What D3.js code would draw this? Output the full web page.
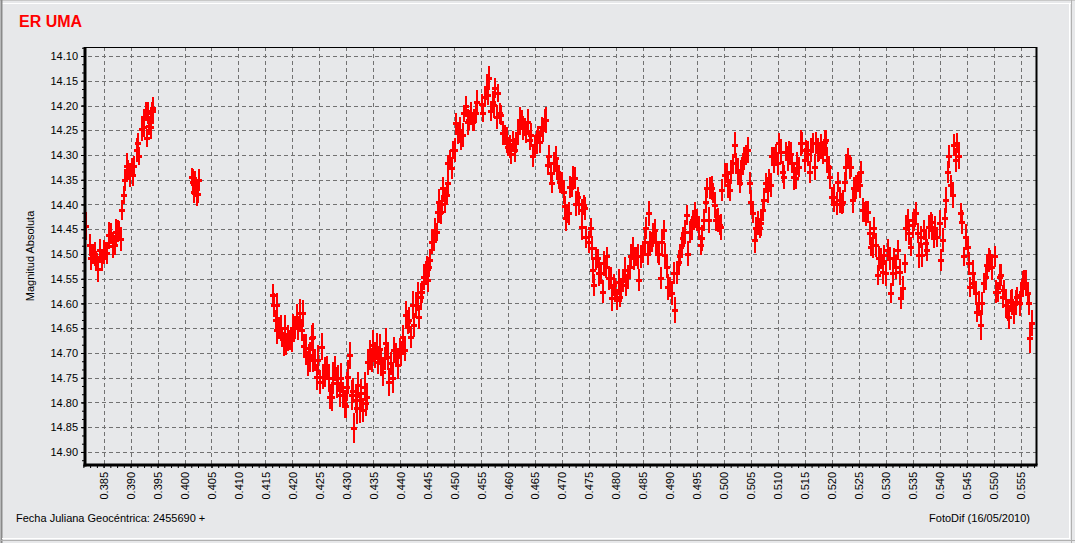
<!DOCTYPE html>
<html><head><meta charset="utf-8">
<script src="https://cdn.jsdelivr.net/npm/d3@7"></script>
<style>
body{margin:0;background:#e7e8ea;}
svg{display:block;font-family:"Liberation Sans",Arial,sans-serif;}
</style></head>
<body><svg id="c" width="1075" height="543"></svg>
<script>
// ---- data: [JD fraction, magnitude, error] ----
const seg1 = [[0.3818,14.443,0.028],[0.3825,14.482,0.022],[0.3827,14.508,0.025],[0.3830,14.500,0.020],[0.3834,14.500,0.024],[0.3836,14.512,0.018],[0.3840,14.530,0.026],[0.3844,14.492,0.022],[0.3847,14.514,0.020],[0.3851,14.496,0.025],[0.3853,14.494,0.019],[0.3856,14.498,0.023],[0.3860,14.462,0.027],[0.3863,14.458,0.021],[0.3867,14.484,0.024],[0.3871,14.482,0.020],[0.3873,14.456,0.026],[0.3877,14.454,0.022],[0.3879,14.452,0.018],[0.3883,14.470,0.024],[0.3884,14.411,0.020],[0.3887,14.381,0.018],[0.3889,14.350,0.022],[0.3893,14.322,0.026],[0.3896,14.330,0.020],[0.3899,14.340,0.024],[0.3902,14.324,0.018],[0.3904,14.340,0.022],[0.3907,14.322,0.020],[0.3912,14.290,0.025],[0.3914,14.276,0.021],[0.3916,14.302,0.018],[0.3921,14.247,0.024],[0.3924,14.243,0.020],[0.3925,14.223,0.016],[0.3929,14.212,0.020],[0.3930,14.265,0.018],[0.3933,14.215,0.022],[0.3935,14.241,0.019],[0.3937,14.243,0.024],[0.3939,14.212,0.020],[0.3941,14.212,0.026],[0.3942,14.205,0.022]];
const seg2 = [[0.4013,14.344,0.018],[0.4016,14.354,0.026],[0.4018,14.374,0.022],[0.4020,14.357,0.024],[0.4021,14.364,0.020],[0.4023,14.379,0.024],[0.4025,14.379,0.018],[0.4026,14.350,0.022]];
const seg3a = [[0.4164,14.583,.022],[0.4166,14.603,.025],[0.4169,14.633,.020],[0.4171,14.603,.024],[0.4172,14.654,.028],[0.4175,14.650,.022],[0.4178,14.650,.026],[0.4181,14.667,.020],[0.4184,14.682,.024],[0.4187,14.650,.027],[0.4189,14.682,.022],[0.4192,14.670,.026],[0.4195,14.674,.020],[0.4199,14.674,.024],[0.4202,14.650,.028],[0.4205,14.650,.022],[0.4208,14.627,.026],[0.4211,14.650,.024],[0.4214,14.620,.030],[0.4217,14.654,.022],[0.4219,14.620,.027],[0.4222,14.686,.024],[0.4225,14.690,.028],[0.4228,14.721,.025],[0.4230,14.704,.022],[0.4233,14.708,.030],[0.4236,14.670,.026],[0.4238,14.714,.024],[0.4239,14.668,.028],[0.4242,14.714,.022],[0.4245,14.748,.026],[0.4248,14.714,.030],[0.4251,14.758,.024],[0.4255,14.687,.028],[0.4257,14.748,.025],[0.4261,14.738,.030],[0.4264,14.731,.024],[0.4267,14.751,.028],[0.4270,14.788,.026],[0.4273,14.788,.030],[0.4276,14.751,.032],[0.4279,14.731,.025],[0.4282,14.761,.030],[0.4285,14.751,.027],[0.4288,14.785,.024],[0.4291,14.751,.030],[0.4294,14.785,.026],[0.4297,14.803,.028],[0.4299,14.808,.024],[0.4302,14.768,.030],[0.4304,14.748,.034],[0.4307,14.705,.028],[0.4310,14.785,.030],[0.4312,14.776,.026],[0.4314,14.852,.030],[0.4317,14.794,.028],[0.4319,14.812,.032],[0.4322,14.765,.026],[0.4325,14.812,.030],[0.4328,14.781,.028],[0.4331,14.815,.024],[0.4334,14.768,.030],[0.4336,14.802,.026],[0.4339,14.788,.028],[0.4341,14.718,.026],[0.4344,14.704,.030],[0.4347,14.714,.024],[0.4350,14.684,.030],[0.4353,14.704,.026],[0.4356,14.687,.028],[0.4359,14.718,.024],[0.4362,14.691,.030],[0.4365,14.721,.026],[0.4368,14.738,.028],[0.4371,14.711,.024],[0.4374,14.680,.030],[0.4377,14.708,.026],[0.4380,14.758,.028],[0.4383,14.721,.024],[0.4386,14.751,.030],[0.4389,14.694,.026],[0.4392,14.704,.024],[0.4395,14.724,.028],[0.4399,14.691,.022],[0.4402,14.701,.026],[0.4405,14.667,.024],[0.4408,14.694,.022],[0.4411,14.623,.028],[0.4414,14.637,.024],[0.4417,14.633,.026],[0.4420,14.667,.022],[0.4423,14.603,.028],[0.4426,14.643,.024],[0.4429,14.603,.026],[0.4432,14.586,.030],[0.4435,14.627,.024],[0.4438,14.586,.028],[0.4441,14.576,.022],[0.4444,14.546,.026],[0.4447,14.539,.024],[0.4450,14.526,.022]];
const seg3b = [[0.4452,14.553,.024],[0.4454,14.526,.020],[0.4456,14.512,.022],[0.4459,14.475,.026],[0.4462,14.473,.020],[0.4465,14.452,.024],[0.4468,14.455,.018],[0.4470,14.415,.022],[0.4472,14.394,.026],[0.4474,14.418,.020],[0.4476,14.415,.024],[0.4478,14.398,.018],[0.4480,14.367,.022],[0.4483,14.391,.026],[0.4486,14.381,.020],[0.4488,14.317,.018],[0.4489,14.357,.024],[0.4492,14.310,.020],[0.4495,14.327,.022],[0.4498,14.290,.018],[0.4501,14.290,.024],[0.4504,14.236,.020],[0.4507,14.256,.022],[0.4510,14.249,.026],[0.4513,14.270,.020],[0.4516,14.260,.024],[0.4519,14.216,.018],[0.4522,14.202,.022],[0.4525,14.233,.026],[0.4528,14.229,.020],[0.4531,14.216,.024],[0.4534,14.233,.018],[0.4537,14.229,.022],[0.4540,14.216,.020],[0.4543,14.192,.024],[0.4551,14.196,.020],[0.4554,14.216,.018],[0.4557,14.182,.022],[0.4560,14.162,.026],[0.4563,14.179,.020],[0.4565,14.145,.024],[0.4568,14.212,.020],[0.4571,14.192,.022],[0.4574,14.199,.026],[0.4576,14.165,.020],[0.4579,14.223,.024],[0.4582,14.175,.018],[0.4585,14.216,.022],[0.4587,14.219,.020],[0.4591,14.256,.024],[0.4594,14.260,.020],[0.4597,14.270,.026],[0.4600,14.283,.020],[0.4603,14.283,.024],[0.4606,14.297,.022],[0.4609,14.270,.018],[0.4612,14.290,.024],[0.4615,14.276,.020],[0.4618,14.256,.022],[0.4622,14.229,.026],[0.4625,14.229,.020],[0.4628,14.246,.024],[0.4631,14.243,.018],[0.4634,14.253,.022],[0.4637,14.233,.026],[0.4640,14.270,.020],[0.4643,14.260,.024],[0.4646,14.303,.022],[0.4650,14.280,.020],[0.4653,14.273,.024],[0.4656,14.260,.018],[0.4659,14.273,.022],[0.4662,14.243,.020],[0.4665,14.249,.024],[0.4668,14.229,.022],[0.4671,14.229,.026],[0.4673,14.320,.020],[0.4676,14.303,.024],[0.4679,14.337,.022],[0.4682,14.357,.020],[0.4685,14.317,.024],[0.4688,14.307,.026],[0.4690,14.330,.020],[0.4694,14.344,.024],[0.4697,14.354,.022],[0.4700,14.354,.020],[0.4703,14.374,.024],[0.4706,14.404,.022],[0.4708,14.428,.026],[0.4710,14.418,.020],[0.4712,14.418,.024],[0.4715,14.364,.022],[0.4718,14.364,.020],[0.4720,14.347,.024],[0.4723,14.347,.022],[0.4726,14.398,.026],[0.4729,14.384,.020],[0.4732,14.398,.024],[0.4736,14.411,.022],[0.4737,14.445,.026],[0.4740,14.401,.020],[0.4743,14.408,.024],[0.4745,14.465,.022]];
const seg3c = [[0.4750,14.475,.022],[0.4753,14.448,.020],[0.4755,14.488,.024],[0.4758,14.532,.026],[0.4760,14.563,.022],[0.4763,14.509,.024],[0.4766,14.509,.020],[0.4769,14.539,.026],[0.4772,14.539,.022],[0.4775,14.576,.024],[0.4778,14.519,.026],[0.4781,14.526,.022],[0.4784,14.505,.020],[0.4787,14.549,.024],[0.4790,14.549,.022],[0.4793,14.589,.026],[0.4796,14.563,.022],[0.4799,14.573,.024],[0.4802,14.593,.020],[0.4805,14.556,.026],[0.4807,14.586,.022],[0.4810,14.573,.024],[0.4813,14.553,.020],[0.4816,14.532,.026],[0.4819,14.563,.022],[0.4822,14.546,.024],[0.4825,14.526,.020],[0.4828,14.505,.026],[0.4831,14.488,.022],[0.4834,14.509,.024],[0.4837,14.505,.020],[0.4840,14.505,.026],[0.4843,14.553,.022],[0.4846,14.505,.024],[0.4850,14.499,.020],[0.4853,14.475,.026],[0.4856,14.448,.022],[0.4859,14.499,.024],[0.4861,14.418,.026],[0.4863,14.475,.022],[0.4866,14.475,.020],[0.4869,14.462,.024],[0.4872,14.452,.022],[0.4875,14.475,.026],[0.4878,14.499,.020],[0.4880,14.499,.024],[0.4883,14.549,.022],[0.4886,14.475,.026],[0.4889,14.452,.020],[0.4891,14.502,.024],[0.4894,14.526,.022],[0.4897,14.566,.026],[0.4900,14.566,.020],[0.4904,14.579,.024],[0.4907,14.539,.022],[0.4910,14.613,.026],[0.4913,14.539,.022],[0.4916,14.516,.024],[0.4919,14.505,.020],[0.4922,14.482,.026],[0.4925,14.468,.022],[0.4928,14.455,.024],[0.4931,14.421,.020],[0.4934,14.499,.026],[0.4937,14.455,.022],[0.4940,14.448,.024],[0.4943,14.431,.020],[0.4946,14.421,.026],[0.4950,14.431,.022],[0.4954,14.448,.024],[0.4957,14.482,.020],[0.4960,14.468,.026],[0.4963,14.431,.022],[0.4966,14.394,.024],[0.4969,14.367,.020],[0.4972,14.431,.026],[0.4974,14.367,.022],[0.4977,14.367,.024],[0.4980,14.377,.020],[0.4983,14.401,.026],[0.4986,14.431,.022],[0.4989,14.431,.024],[0.4992,14.441,.020],[0.4994,14.445,.026],[0.4997,14.371,.022],[0.5002,14.340,.024],[0.5005,14.337,.020],[0.5008,14.361,.026],[0.5011,14.371,.022],[0.5014,14.334,.024],[0.5017,14.317,.020],[0.5020,14.280,.026],[0.5023,14.317,.022],[0.5026,14.330,.024],[0.5029,14.357,.020],[0.5032,14.337,.026],[0.5035,14.317,.022],[0.5038,14.307,.024],[0.5041,14.300,.020],[0.5044,14.290,.026]];
const seg3d = [[0.5048,14.357,.022],[0.5051,14.394,.024],[0.5054,14.418,.020],[0.5057,14.472,.026],[0.5060,14.448,.022],[0.5063,14.438,.024],[0.5066,14.448,.020],[0.5069,14.438,.026],[0.5072,14.411,.022],[0.5075,14.391,.024],[0.5078,14.357,.020],[0.5081,14.371,.026],[0.5084,14.351,.022],[0.5087,14.361,.024],[0.5090,14.303,.020],[0.5093,14.310,.026],[0.5096,14.300,.022],[0.5100,14.317,.024],[0.5103,14.276,.020],[0.5106,14.293,.026],[0.5109,14.334,.022],[0.5112,14.344,.024],[0.5115,14.293,.020],[0.5118,14.307,.026],[0.5121,14.293,.022],[0.5124,14.297,.024],[0.5127,14.317,.020],[0.5130,14.344,.026],[0.5133,14.347,.022],[0.5136,14.317,.024],[0.5139,14.324,.020],[0.5142,14.276,.026],[0.5145,14.276,.022],[0.5150,14.310,.024],[0.5153,14.290,.020],[0.5156,14.297,.026],[0.5159,14.334,.022],[0.5162,14.290,.024],[0.5165,14.276,.020],[0.5168,14.324,.026],[0.5171,14.276,.022],[0.5174,14.290,.024],[0.5177,14.293,.020],[0.5180,14.283,.026],[0.5183,14.297,.022],[0.5187,14.273,.024],[0.5190,14.270,.020],[0.5191,14.310,.026],[0.5194,14.324,.022],[0.5197,14.344,.024],[0.5200,14.384,.020],[0.5204,14.384,.026],[0.5205,14.394,.022],[0.5209,14.398,.024],[0.5212,14.354,.020],[0.5215,14.391,.026],[0.5218,14.398,.022],[0.5221,14.394,.024],[0.5224,14.354,.020],[0.5227,14.324,.026],[0.5230,14.307,.022],[0.5233,14.324,.024],[0.5236,14.324,.020],[0.5239,14.391,.026],[0.5242,14.367,.022],[0.5245,14.364,.024],[0.5248,14.354,.020],[0.5252,14.361,.026],[0.5255,14.334,.022],[0.5258,14.411,.024],[0.5261,14.415,.020],[0.5264,14.418,.026],[0.5267,14.415,.022],[0.5270,14.458,.024],[0.5273,14.485,.020],[0.5276,14.482,.026],[0.5279,14.448,.022],[0.5282,14.482,.024],[0.5285,14.542,.020],[0.5288,14.509,.026],[0.5291,14.509,.022],[0.5294,14.536,.024],[0.5297,14.502,.020]];
const seg3e = [[0.5301,14.539,.026],[0.5304,14.492,.022],[0.5307,14.509,.024],[0.5310,14.579,.020],[0.5313,14.539,.026],[0.5316,14.509,.022],[0.5319,14.526,.024],[0.5322,14.492,.020],[0.5326,14.536,.026],[0.5329,14.589,.022],[0.5332,14.569,.024],[0.5335,14.519,.020],[0.5338,14.448,.026],[0.5341,14.431,.022],[0.5344,14.458,.024],[0.5347,14.485,.020],[0.5350,14.441,.026],[0.5353,14.431,.022],[0.5356,14.418,.024],[0.5359,14.458,.020],[0.5362,14.502,.026],[0.5365,14.465,.022],[0.5368,14.502,.024],[0.5371,14.452,.020],[0.5374,14.478,.026],[0.5377,14.492,.022],[0.5380,14.445,.024],[0.5383,14.435,.020],[0.5386,14.445,.026],[0.5389,14.465,.022],[0.5392,14.448,.024],[0.5395,14.465,.020],[0.5400,14.438,.026],[0.5403,14.512,.022],[0.5406,14.472,.024],[0.5409,14.428,.020],[0.5412,14.391,.026],[0.5415,14.334,.022],[0.5418,14.303,.024],[0.5421,14.361,.020],[0.5424,14.381,.026],[0.5427,14.280,.022],[0.5430,14.310,.024],[0.5433,14.276,.020],[0.5436,14.303,.026],[0.5439,14.418,.022],[0.5442,14.435,.024],[0.5445,14.505,.020],[0.5449,14.465,.026],[0.5452,14.485,.022],[0.5455,14.519,.024],[0.5457,14.566,.020],[0.5461,14.539,.026],[0.5464,14.559,.022],[0.5467,14.579,.024],[0.5470,14.617,.020],[0.5473,14.600,.026],[0.5476,14.643,.030],[0.5479,14.600,.024],[0.5482,14.559,.020],[0.5485,14.546,.026],[0.5488,14.522,.022],[0.5491,14.512,.024],[0.5494,14.512,.020],[0.5497,14.526,.026],[0.5502,14.505,.022],[0.5505,14.576,.024],[0.5508,14.576,.020],[0.5511,14.546,.026],[0.5514,14.542,.022],[0.5517,14.586,.024],[0.5520,14.573,.020],[0.5523,14.603,.026],[0.5526,14.613,.022],[0.5529,14.627,.024],[0.5532,14.593,.020],[0.5535,14.596,.026],[0.5538,14.620,.022],[0.5541,14.596,.024],[0.5544,14.586,.020],[0.5548,14.600,.026],[0.5551,14.583,.022],[0.5554,14.559,.024],[0.5557,14.553,.020],[0.5560,14.559,.026],[0.5563,14.579,.022],[0.5566,14.600,.024],[0.5568,14.670,.030],[0.5571,14.640,.026]];

const xTicks = [0.385,0.390,0.395,0.400,0.405,0.410,0.415,0.420,0.425,0.430,0.435,0.440,0.445,0.450,0.455,0.460,0.465,0.470,0.475,0.480,0.485,0.490,0.495,0.500,0.505,0.510,0.515,0.520,0.525,0.530,0.535,0.540,0.545,0.550,0.555];
const yTicks = [14.10,14.15,14.20,14.25,14.30,14.35,14.40,14.45,14.50,14.55,14.60,14.65,14.70,14.75,14.80,14.85,14.90];
const xDomain = [0.38155, 0.55795];
const yDomain = [14.0818, 14.9263];
const title = "ER UMA";
const yLabel = "Magnitud Absoluta";
const xLabel = "Fecha Juliana Geocéntrica: 2455690 +";
const credit = "FotoDif (16/05/2010)";

// ---- layout ----
const W = 1075, H = 543;
const L = 85, R = 1036.5, T = 47, B = 465;
const svg = d3.select("#c");

svg.append("rect").attr("width", W).attr("height", H).attr("fill", "#e7e8ea");
// window frame
svg.append("line").attr("x1",0).attr("x2",W).attr("y1",0.5).attr("y2",0.5).attr("stroke","#c8c8c8");
svg.append("line").attr("x1",2).attr("x2",W-4).attr("y1",3.5).attr("y2",3.5).attr("stroke","#ffffff");
svg.append("line").attr("x1",1.5).attr("x2",1.5).attr("y1",0).attr("y2",H).attr("stroke","#8a8a8a").attr("stroke-width",2);
svg.append("line").attr("x1",W-5.5).attr("x2",W-5.5).attr("y1",3).attr("y2",H-4).attr("stroke","#ffffff");
svg.append("line").attr("x1",W-3.5).attr("x2",W-3.5).attr("y1",0).attr("y2",H).attr("stroke","#b0b0b0");
svg.append("line").attr("x1",2).attr("x2",W-5).attr("y1",H-4.5).attr("y2",H-4.5).attr("stroke","#ffffff");
svg.append("line").attr("x1",0).attr("x2",W).attr("y1",H-2.5).attr("y2",H-2.5).attr("stroke","#b0b0b0");

const x = d3.scaleLinear().domain(xDomain).range([L, R]);
const y = d3.scaleLinear().domain(yDomain).range([T, B]);

// grid
const grid = svg.append("g").attr("stroke", "#727272").attr("stroke-width", 1).attr("stroke-dasharray", "4,3")
  .attr("shape-rendering", "crispEdges");
grid.selectAll(".gx").data(xTicks).join("line")
  .attr("x1", d => Math.round(x(d)) + 0.5).attr("x2", d => Math.round(x(d)) + 0.5)
  .attr("y1", T).attr("y2", B + 2);
grid.selectAll(".gy").data(yTicks).join("line")
  .attr("y1", d => Math.round(y(d)) + 0.5).attr("y2", d => Math.round(y(d)) + 0.5)
  .attr("x1", L - 4).attr("x2", R);

// data
svg.append("clipPath").attr("id", "clip").append("rect").attr("x", L).attr("y", T).attr("width", R - L).attr("height", B - T);
const pts = [].concat(seg1, seg2, seg3a, seg3b, seg3c, seg3d, seg3e);
const g = svg.append("g").attr("clip-path", "url(#clip)").attr("shape-rendering", "crispEdges");
g.selectAll("line.eb").data(pts).join("line").attr("class", "eb")
  .attr("x1", d => Math.round(x(d[0]))).attr("x2", d => Math.round(x(d[0])))
  .attr("y1", d => Math.round(y(d[1] - d[2]))).attr("y2", d => Math.round(y(d[1] + d[2])))
  .attr("stroke", "#ff0000").attr("stroke-width", 2);
g.selectAll("rect.mk").data(pts).join("rect").attr("class", "mk")
  .attr("x", d => Math.round(x(d[0])) - 3).attr("y", d => Math.round(y(d[1])) - 1)
  .attr("width", 6).attr("height", 3).attr("fill", "#ff0000");

// axes
const xMinor = d3.range(0.38125, 0.5580, 0.00125);
const yMinor = d3.range(14.0833, 14.926, 0.05 / 3);

const ax = svg.append("g").attr("transform", `translate(0,${B})`);
ax.call(d3.axisBottom(x).tickValues(xMinor).tickSize(3).tickFormat(""))
  .call(s => s.select(".domain").remove());
const axL = svg.append("g").attr("transform", `translate(0,${B})`)
  .call(d3.axisBottom(x).tickValues(xTicks).tickSize(3).tickFormat(d3.format(".3f")))
  .call(s => s.select(".domain").remove());
axL.selectAll("text")
  .attr("transform", "rotate(-90)")
  .attr("text-anchor", "end")
  .attr("x", -7).attr("y", 0).attr("dy", "0.35em")
  .attr("font-size", 11).attr("font-family", "Liberation Sans, Arial, sans-serif").attr("fill", "#000");

const ay = svg.append("g").attr("transform", `translate(${L},0)`);
ay.call(d3.axisLeft(y).tickValues(yMinor).tickSize(3).tickFormat(""))
  .call(s => s.select(".domain").remove());
const ayL = svg.append("g").attr("transform", `translate(${L},0)`)
  .call(d3.axisLeft(y).tickValues(yTicks).tickSize(4).tickFormat(d3.format(".2f")))
  .call(s => s.select(".domain").remove());
ayL.selectAll("text").attr("x", -7).attr("font-size", 11)
  .attr("font-family", "Liberation Sans, Arial, sans-serif").attr("fill", "#000");
svg.selectAll(".tick line").attr("stroke", "#000");

// frame
svg.append("line").attr("x1", L).attr("x2", R).attr("y1", T + 0.5).attr("y2", T + 0.5).attr("stroke", "#000");
svg.append("line").attr("x1", R).attr("x2", R).attr("y1", T).attr("y2", B).attr("stroke", "#000").attr("stroke-width", 2);
svg.append("line").attr("x1", L).attr("x2", L).attr("y1", T).attr("y2", B + 1.5).attr("stroke", "#000").attr("stroke-width", 3);
svg.append("line").attr("x1", L - 1.5).attr("x2", R + 1).attr("y1", B).attr("y2", B).attr("stroke", "#000").attr("stroke-width", 3);

// texts
svg.append("text").attr("x", 19).attr("y", 27).text(title)
  .attr("fill", "#ff0000").attr("font-size", 16).attr("font-weight", "bold");
svg.append("text").attr("transform", `translate(34,${(T + B) / 2}) rotate(-90)`)
  .attr("text-anchor", "middle").attr("font-size", 11).text(yLabel);
svg.append("text").attr("x", 16).attr("y", 522).attr("font-size", 11).text(xLabel);
svg.append("text").attr("x", 1030).attr("y", 522).attr("text-anchor", "end").attr("font-size", 11).text(credit);
</script></body></html>
